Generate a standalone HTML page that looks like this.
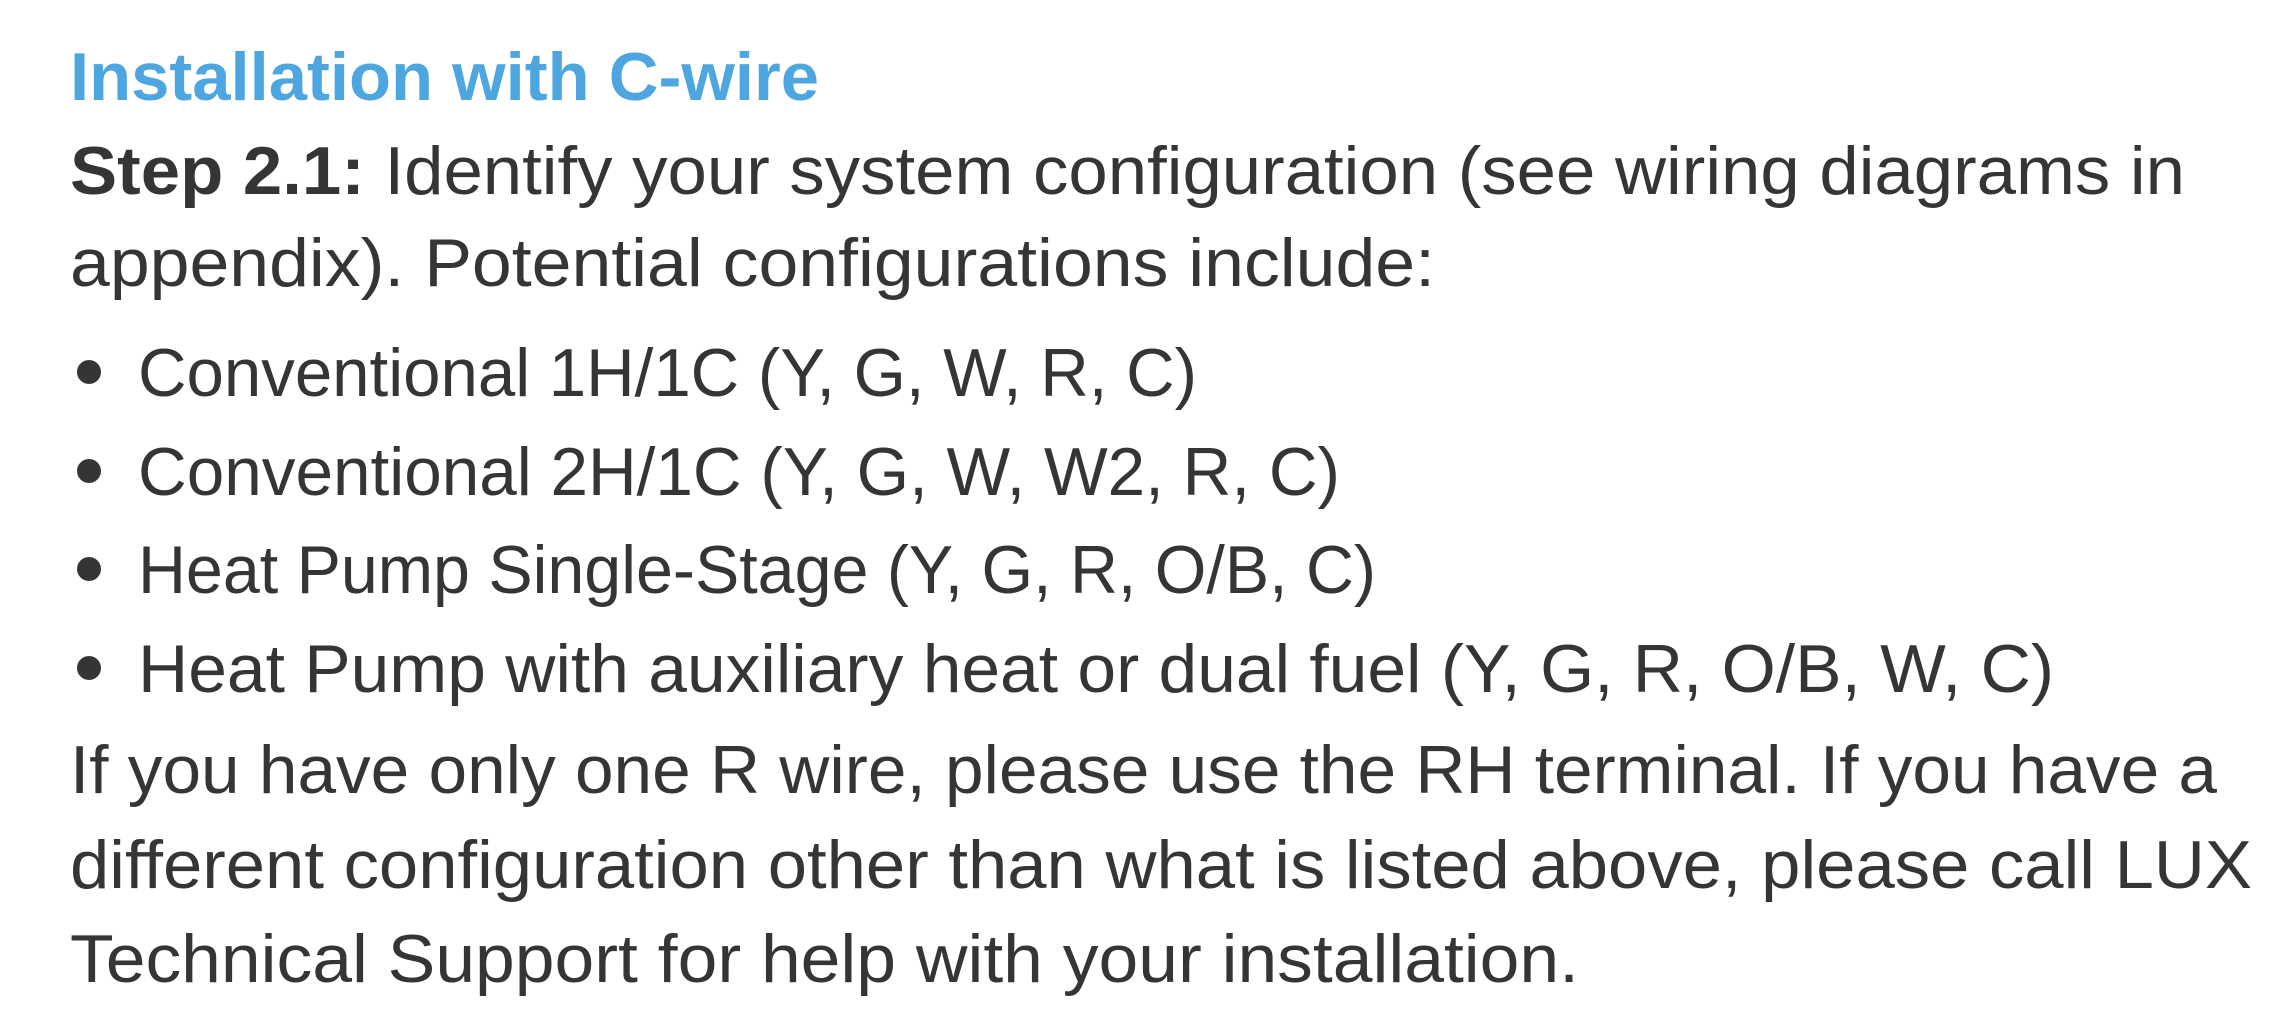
<!DOCTYPE html>
<html><head><meta charset="utf-8"><style>html,body{margin:0;padding:0;background:#fff;width:2284px;height:1030px;overflow:hidden}</style></head>
<body>
<svg width="2284" height="1030" xmlns="http://www.w3.org/2000/svg" font-family="Liberation Sans, sans-serif" font-size="68" fill="#363435">
<text x="70" y="100" fill="#4DA6E0" font-weight="bold" textLength="749" lengthAdjust="spacingAndGlyphs">Installation with C-wire</text>
<text x="70" y="194" textLength="2115" lengthAdjust="spacingAndGlyphs"><tspan font-weight="bold">Step 2.1:</tspan> Identify your system configuration (see wiring diagrams in</text>
<text x="70" y="286" textLength="1365" lengthAdjust="spacingAndGlyphs">appendix). Potential configurations include:</text>
<circle cx="89" cy="372" r="12"/>
<circle cx="89" cy="471" r="12"/>
<circle cx="89" cy="569" r="12"/>
<circle cx="89" cy="668" r="12"/>
<text x="138" y="396" textLength="1059" lengthAdjust="spacingAndGlyphs">Conventional 1H/1C (Y, G, W, R, C)</text>
<text x="138" y="495" textLength="1202" lengthAdjust="spacingAndGlyphs">Conventional 2H/1C (Y, G, W, W2, R, C)</text>
<text x="138" y="593" textLength="1238" lengthAdjust="spacingAndGlyphs">Heat Pump Single-Stage (Y, G, R, O/B, C)</text>
<text x="138" y="692" textLength="1916" lengthAdjust="spacingAndGlyphs">Heat Pump with auxiliary heat or dual fuel (Y, G, R, O/B, W, C)</text>
<text x="70" y="793" textLength="2147" lengthAdjust="spacingAndGlyphs">If you have only one R wire, please use the RH terminal. If you have a</text>
<text x="70" y="888" textLength="2182" lengthAdjust="spacingAndGlyphs">different configuration other than what is listed above, please call LUX</text>
<text x="70" y="982" textLength="1509" lengthAdjust="spacingAndGlyphs">Technical Support for help with your installation.</text>
</svg>
</body></html>
